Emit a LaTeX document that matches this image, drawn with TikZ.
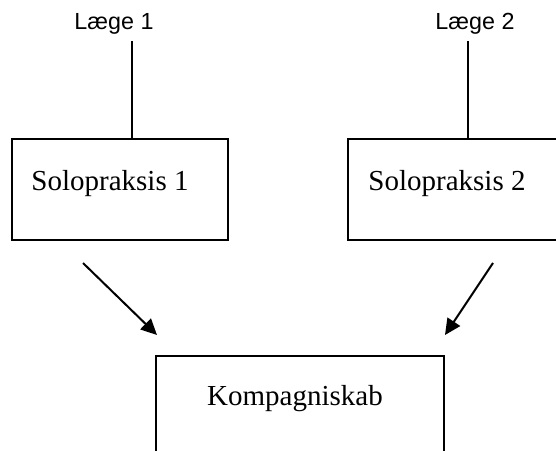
\documentclass[tikz,border=0pt]{standalone}
\usepackage{fontspec}
\setmainfont{Liberation Serif}
\newfontfamily\arialfont{Liberation Sans}
\usetikzlibrary{arrows.meta}
\tikzset{
  boxnode/.style={draw, line width=1.8pt, rectangle, inner sep=0pt},
  serifl/.style={font=\fontsize{29}{34}\selectfont, inner sep=0pt, anchor=base},
  sansl/.style={font=\arialfont\fontsize{23.3}{28}\selectfont, inner sep=0pt, anchor=base},
  conn/.style={line width=1.8pt},
  arr/.style={line width=2pt, -{Triangle[length=16pt,width=15pt]}}
}
\begin{document}
\begin{tikzpicture}[x=1pt,y=-1pt]
\clip (0,0) rectangle (556,450);
\fill[white] (0,0) rectangle (556,450);
% labels
\node[sansl] (l1) at (114,29.5) {Læge 1};
\node[sansl] (l2) at (475,29.5) {Læge 2};
% boxes
\node[boxnode, minimum width=216pt, minimum height=101pt] (box1) at (120,189.5) {};
\node[boxnode, minimum width=216pt, minimum height=101pt] (box2) at (456,189.5) {};
\node[boxnode, minimum width=288pt, minimum height=100pt] (box3) at (300,406) {};
% box texts
\node[serifl] (t1) at (110,190) {Solopraksis 1};
\node[serifl] (t2) at (447,190) {Solopraksis 2};
\node[serifl] (t3) at (295,405) {Kompagniskab};
% vertical lines
\coordinate (a1) at (132,41);
\coordinate (a2) at (468,41);
\draw[conn] (a1) -- (a1 |- box1.north);
\draw[conn] (a2) -- (a2 |- box2.north);
% arrows
\coordinate (s1) at (83,263);
\coordinate (e1) at (157,335);
\coordinate (s2) at (493,263);
\coordinate (e2) at (445,335);
\draw[arr] (s1) -- (e1);
\draw[arr] (s2) -- (e2);
\end{tikzpicture}
\end{document}
